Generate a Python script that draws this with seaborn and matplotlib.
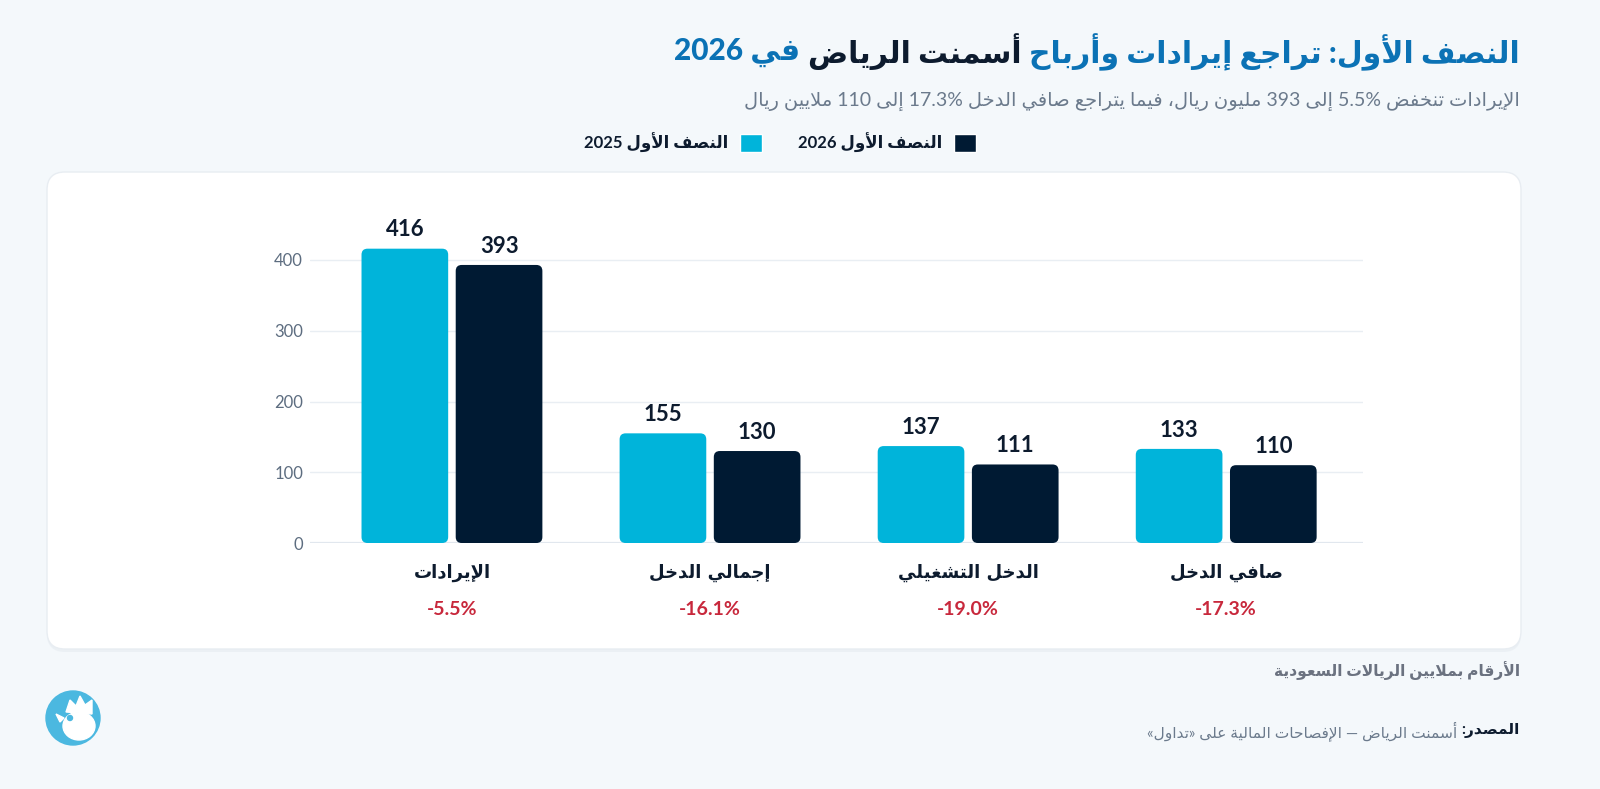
import re
import pandas as pd
import matplotlib
matplotlib.use("Agg")
import matplotlib.pyplot as plt
import seaborn as sns
from matplotlib.patches import FancyBboxPatch, Circle, Ellipse, Polygon

# Chart data
categories = ["الإيرادات", "إجمالي الدخل", "الدخل التشغيلي", "صافي الدخل"]
h1_2025 = [416, 155, 137, 133]
h1_2026 = [393, 130, 111, 110]
changes = ["-5.5%", "-16.1%", "-19.0%", "-17.3%"]
series_names = ["النصف الأول 2025", "النصف الأول 2026"]
y_ticks = [0, 100, 200, 300, 400]

# Texts
title_parts = ["النصف الأول: تراجع إيرادات وأرباح", "أسمنت الرياض", "في 2026"]
subtitle = "الإيرادات تنخفض 5.5% إلى 393 مليون ريال، فيما يتراجع صافي الدخل 17.3% إلى 110 ملايين ريال"
unit_note = "الأرقام بملايين الريالات السعودية"
source_label = "المصدر:"
source_text = "أسمنت الرياض — الإفصاحات المالية على «تداول»"

# Colours
BG = "#f4f8fb"
CYAN = "#00b4da"
NAVY = "#001a33"
BLUE = "#0b72b5"
DARK = "#0d1b2e"
GRAY = "#6b7a8c"
RED = "#c8283c"
NUM_FONT = ["Lato", "DejaVu Sans"]

# --- minimal Arabic shaping + RTL ordering (matplotlib has no text shaping) ---
_letters = [
    ("\u0621", 0xFE80, 1), ("\u0622", 0xFE81, 2), ("\u0623", 0xFE83, 2), ("\u0624", 0xFE85, 2),
    ("\u0625", 0xFE87, 2), ("\u0626", 0xFE89, 4), ("\u0627", 0xFE8D, 2), ("\u0628", 0xFE8F, 4),
    ("\u0629", 0xFE93, 2), ("\u062A", 0xFE95, 4), ("\u062B", 0xFE99, 4), ("\u062C", 0xFE9D, 4),
    ("\u062D", 0xFEA1, 4), ("\u062E", 0xFEA5, 4), ("\u062F", 0xFEA9, 2), ("\u0630", 0xFEAB, 2),
    ("\u0631", 0xFEAD, 2), ("\u0632", 0xFEAF, 2), ("\u0633", 0xFEB1, 4), ("\u0634", 0xFEB5, 4),
    ("\u0635", 0xFEB9, 4), ("\u0636", 0xFEBD, 4), ("\u0637", 0xFEC1, 4), ("\u0638", 0xFEC5, 4),
    ("\u0639", 0xFEC9, 4), ("\u063A", 0xFECD, 4), ("\u0641", 0xFED1, 4), ("\u0642", 0xFED5, 4),
    ("\u0643", 0xFED9, 4), ("\u0644", 0xFEDD, 4), ("\u0645", 0xFEE1, 4), ("\u0646", 0xFEE5, 4),
    ("\u0647", 0xFEE9, 4), ("\u0648", 0xFEED, 2), ("\u0649", 0xFEEF, 2), ("\u064A", 0xFEF1, 4),
]
FORMS = {c: (start, n) for c, start, n in _letters}
LAM_ALEF = {"\u0622": 0xFEF5, "\u0623": 0xFEF7, "\u0625": 0xFEF9, "\u0627": 0xFEFB}
MIRROR = str.maketrans({"«": "»", "»": "«", "(": ")", ")": "("})


def _nforms(u):
    kind, c = u
    if kind == "LA":
        return 2
    return FORMS[c][1] if c in FORMS else 0


def shape(text):
    units = []
    i = 0
    while i < len(text):
        c = text[i]
        if c == "\u0644" and i + 1 < len(text) and text[i + 1] in LAM_ALEF:
            units.append(("LA", text[i + 1]))
            i += 2
        else:
            units.append(("C", c))
            i += 1
    out = []
    for k, u in enumerate(units):
        n = _nforms(u)
        if n == 0:
            out.append(u[1])
            continue
        prev_j = n >= 2 and k > 0 and _nforms(units[k - 1]) == 4
        next_j = n == 4 and k + 1 < len(units) and _nforms(units[k + 1]) >= 2
        if u[0] == "LA":
            out.append(chr(LAM_ALEF[u[1]] + (1 if prev_j else 0)))
            continue
        start = FORMS[u[1]][0]
        if n == 1:
            off = 0
        elif prev_j and next_j:
            off = 3
        elif next_j:
            off = 2
        elif prev_j:
            off = 1
        else:
            off = 0
        out.append(chr(start + off))
    return "".join(out)


def ar(text):
    s = shape(text)
    runs = re.findall(r"[0-9A-Za-z][0-9A-Za-z.,%]*|[^0-9A-Za-z]+", s)
    vis = []
    for r in reversed(runs):
        if re.match(r"[0-9A-Za-z]", r):
            vis.append(r)
        else:
            vis.append(r[::-1].translate(MIRROR))
    return "".join(vis)


sns.set_theme(style="white")
plt.rcParams["font.family"] = NUM_FONT

df = pd.DataFrame({
    "category": [ar(c) for c in categories] * 2,
    "value": h1_2025 + h1_2026,
    "series": [ar(series_names[0])] * len(categories) + [ar(series_names[1])] * len(categories),
})

W, H = 1600, 789
fig = plt.figure(figsize=(16, 7.89), dpi=100)
fig.patch.set_facecolor(BG)

# background layer in pixel coords (card, texts, logo)
bg = fig.add_axes([0, 0, 1, 1], zorder=-1)
bg.set_xlim(0, W)
bg.set_ylim(H, 0)
bg.axis("off")
bg.add_patch(FancyBboxPatch((47, 175), 1474, 477, boxstyle="round,pad=0,rounding_size=18",
                            fc="#e3e9ef", ec="none", alpha=0.5))
bg.add_patch(FancyBboxPatch((47, 172), 1474, 477, boxstyle="round,pad=0,rounding_size=18",
                            fc="white", ec="#e8edf2", lw=1))

# main bar axes
ax = fig.add_axes([310 / W, (H - 543) / H, 1053 / W, 311.3 / H])
ax.set_facecolor("none")
sns.barplot(data=df, x="category", y="value", hue="series", hue_order=[ar(s) for s in series_names],
            palette=[CYAN, NAVY], width=0.73, gap=0.08, saturation=1, ax=ax)
ax.set_xlim(-0.55, 3.53)
ax.set_ylim(0, 440)
ax.set_yticks(y_ticks)
ax.set_xlabel("")
ax.set_ylabel("")
for s in ax.spines.values():
    s.set_visible(False)
ax.yaxis.grid(True, color="#e9eef3", lw=1)
ax.set_axisbelow(True)
ax.axhline(0, color="#e0e6ed", lw=1.6, zorder=0.5)
ax.tick_params(axis="y", length=0, pad=5, labelsize=12, labelcolor="#5d6d80")
ax.tick_params(axis="x", length=0, pad=15, labelsize=13, labelcolor=DARK)
for t in ax.get_xticklabels():
    t.set_fontweight("bold")
    t.set_family("DejaVu Sans")

# rounded bars
bb = ax.get_window_extent()
px_x = bb.width / (3.53 + 0.55)
px_y = bb.height / 440
aspect = px_x / px_y
r = 6 / px_x
for cont in ax.containers:
    for rect in cont:
        fb = FancyBboxPatch((rect.get_x(), rect.get_y()), rect.get_width(), rect.get_height(),
                            boxstyle=f"round,pad=0,rounding_size={r}", mutation_aspect=aspect,
                            fc=rect.get_facecolor(), ec="none", zorder=2)
        ax.add_patch(fb)
        rect.set_visible(False)
    ax.bar_label(cont, padding=6, fontsize=16, fontweight="bold", color=DARK, family=NUM_FONT)

for i, ch in enumerate(changes):
    ax.text(i, -0.215, ch, transform=ax.get_xaxis_transform(), ha="center", va="center",
            color=RED, fontsize=14, fontweight="bold", family=NUM_FONT)

# legend (RTL: swatch right of text)
handles, labels = ax.get_legend_handles_labels()
ax.legend(handles, labels, ncol=2, markerfirst=False, frameon=False, loc="center",
          bbox_to_anchor=(780 / W, 1 - 143 / H), bbox_transform=fig.transFigure,
          handlelength=1.3, handleheight=1.3, columnspacing=2.2, handletextpad=0.7,
          prop={"size": 12, "weight": "bold", "family": NUM_FONT}, labelcolor=DARK)

renderer = fig.canvas.get_renderer()


def rtl_line(x_right, y, pieces, gap=8):
    x = x_right
    for text, kw in pieces:
        t = bg.text(x, y, ar(text), ha="right", va="center", **kw)
        x -= t.get_window_extent(renderer=renderer).width + gap


rtl_line(1520, 52, [(title_parts[0], dict(color=BLUE, fontsize=21.5, fontweight=900)),
                    (title_parts[1], dict(color=DARK, fontsize=21.5, fontweight=900)),
                    (title_parts[2], dict(color=BLUE, fontsize=21.5, fontweight=900))], gap=8)
rtl_line(1520, 101, [(subtitle, dict(color=GRAY, fontsize=14))])
rtl_line(1520, 671, [(unit_note, dict(color="#6b7280", fontsize=11.2, fontweight="bold"))])
rtl_line(1520, 731, [(source_label, dict(color=DARK, fontsize=11.1, fontweight="bold")),
                     (source_text, dict(color=GRAY, fontsize=11.1))], gap=4)

# logo
bg.add_patch(Circle((73, 718), 27, color="#4bb8e0"))
bg.add_patch(Ellipse((79, 726), 32, 28, color="white"))
bg.add_patch(Polygon([(66, 712), (70, 700), (76, 706), (80, 696), (85, 705), (92, 700), (92, 714)],
                     closed=True, color="white"))
bg.add_patch(Polygon([(64, 718), (56, 714), (60, 722)], closed=True, color="white"))
bg.add_patch(Circle((70, 718), 2.5, color="#4bb8e0"))

fig.savefig("out.png", dpi=100, facecolor=BG)
